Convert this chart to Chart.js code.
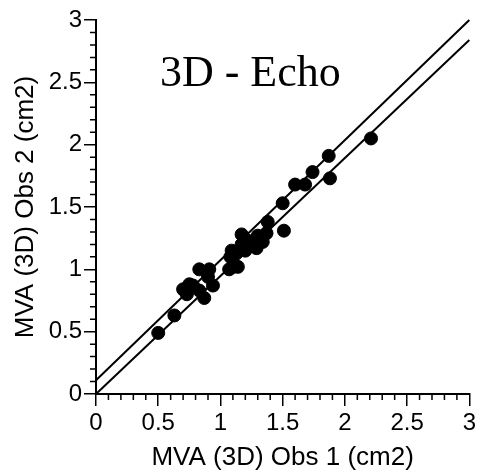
<!DOCTYPE html>
<html>
<head>
<meta charset="utf-8">
<script src="https://cdn.jsdelivr.net/npm/chart.js@4/dist/chart.umd.min.js"></script>
<style>
  html, body { margin: 0; padding: 0; background: #fff; }
  #wrap { width: 479px; height: 473px; }
</style>
</head>
<body>
<div id="wrap"><canvas id="c" width="479" height="473"></canvas></div>
<script>
// observer 1 vs observer 2 MVA (cm2)
const obs1 = [0.50, 0.63, 0.70, 0.71, 0.73, 0.75, 0.78, 0.83, 0.83, 0.87, 0.90, 0.91, 0.94,
  1.07, 1.08, 1.09, 1.10, 1.13, 1.14, 1.17, 1.17, 1.20, 1.21, 1.22, 1.26, 1.29, 1.29, 1.30,
  1.34, 1.37, 1.38, 1.50, 1.51, 1.60, 1.68, 1.74, 1.87, 1.88, 2.21];
const obs2 = [0.49, 0.63, 0.84, 0.83, 0.80, 0.88, 0.87, 1.00, 0.83, 0.77, 0.94, 1.00, 0.87,
  1.00, 1.10, 1.15, 1.02, 1.13, 1.02, 1.28, 1.20, 1.15, 1.17, 1.23, 1.19, 1.17, 1.24, 1.27,
  1.22, 1.29, 1.38, 1.53, 1.31, 1.68, 1.68, 1.78, 1.91, 1.73, 2.05];

// two fitted lines (end points)
const lineA = [{ x: 0, y: 0.11 }, { x: 3, y: 3.0 }];
const lineB = [{ x: 0, y: 0.0 }, { x: 3, y: 2.84 }];

const majorTicks = [0, 0.5, 1, 1.5, 2, 2.5, 3];
const chartTitle = "3D - Echo";
const xTitle = "MVA (3D) Obs 1 (cm2)";
const yTitle = "MVA (3D) Obs 2 (cm2)";

const points = obs1.map((v, i) => ({ x: v, y: obs2[i] }));

// small ticks every 0.1, drawn through the scales
const minorTicks = {
  id: "minorTicks",
  afterDraw(chart) {
    const ctx = chart.ctx;
    const xs = chart.scales.x, ys = chart.scales.y;
    ctx.save();
    ctx.strokeStyle = "#000";
    ctx.lineWidth = 1.5;
    ctx.beginPath();
    for (let i = 1; i < 30; i++) {
      if (i % 5 === 0) continue;
      const v = i / 10;
      const px = xs.getPixelForValue(v);
      ctx.moveTo(px, xs.top);
      ctx.lineTo(px, xs.top + 6);
      const py = ys.getPixelForValue(v);
      ctx.moveTo(ys.right, py);
      ctx.lineTo(ys.right - 6, py);
    }
    ctx.stroke();
    // title text inside the plot
    ctx.fillStyle = "#000";
    ctx.font = '44px "Liberation Serif", "Times New Roman", serif';
    ctx.textAlign = "center";
    ctx.textBaseline = "alphabetic";
    ctx.fillText(chartTitle, xs.getPixelForValue(1.24), ys.getPixelForValue(2.47));
    ctx.restore();
  }
};

const sans = '"Liberation Sans", Arial, Helvetica, sans-serif';
const fmt = (v) => String(v);

new Chart(document.getElementById("c"), {
  type: "scatter",
  data: {
    datasets: [
      {
        data: points,
        backgroundColor: "#000",
        borderColor: "#000",
        pointRadius: 6.5,
        pointHoverRadius: 6.5
      },
      {
        data: lineA,
        showLine: true,
        borderColor: "#000",
        borderWidth: 2,
        pointRadius: 0,
        clip: false
      },
      {
        data: lineB,
        showLine: true,
        borderColor: "#000",
        borderWidth: 2,
        pointRadius: 0,
        clip: false
      }
    ]
  },
  options: {
    responsive: false,
    animation: false,
    layout: { padding: { top: 20, right: 9, left: 0, bottom: 0 } },
    plugins: { legend: { display: false }, tooltip: { enabled: false } },
    scales: {
      x: {
        type: "linear",
        min: 0,
        max: 3,
        afterFit: (s) => { s.height = 79; },
        afterBuildTicks: (s) => { s.ticks = majorTicks.map(v => ({ value: v })); },
        border: { display: true, color: "#000", width: 2 },
        grid: { drawOnChartArea: false, color: "#000", tickLength: 12, lineWidth: 1.5 },
        ticks: { color: "#000", padding: 3, maxRotation: 0, callback: fmt, font: { family: sans, size: 24 } },
        title: { display: true, text: xTitle, color: "#000", padding: 0, font: { family: sans, size: 26 } }
      },
      y: {
        type: "linear",
        min: 0,
        max: 3,
        afterFit: (s) => { s.width = 96; },
        afterBuildTicks: (s) => { s.ticks = majorTicks.map(v => ({ value: v })); },
        border: { display: true, color: "#000", width: 2 },
        grid: { drawOnChartArea: false, color: "#000", tickLength: 12, lineWidth: 1.5 },
        ticks: { color: "#000", padding: 2, callback: fmt, font: { family: sans, size: 24 } },
        title: { display: true, text: yTitle, color: "#000", padding: { top: 10, bottom: 0 }, font: { family: sans, size: 26 } }
      }
    }
  },
  plugins: [minorTicks]
});
</script>
</body>
</html>
